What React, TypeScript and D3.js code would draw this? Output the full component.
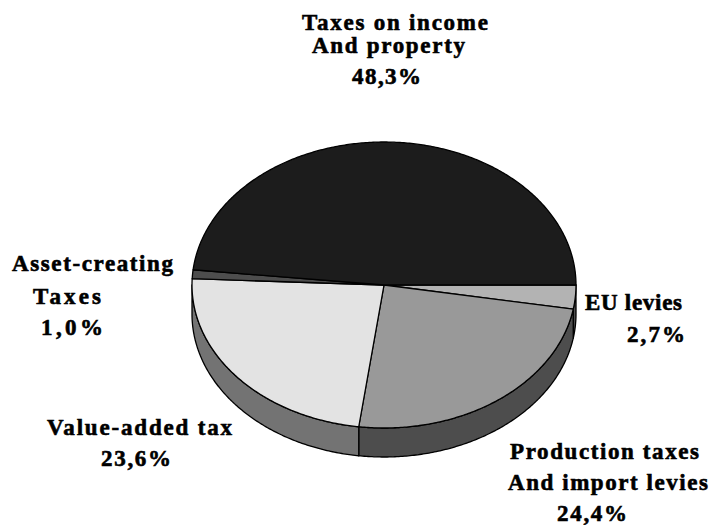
import React from "react";
import * as d3 from "d3";

// Shares of tax revenue, listed clockwise from the east point of the pie.
const categories = ["EU levies", "Production taxes and import levies", "Value-added tax", "Asset-creating taxes", "Taxes on income and property"];
const shares = [2.7, 24.4, 23.6, 1.0, 48.3];
const topColors = ["#b3b3b3", "#999999", "#e3e3e3", "#4d4d4d", "#1c1c1c"];
const wallColors = ["#4d4d4d", "#4d4d4d", "#737373", "#333333", "#141414"];

const labelLines = [
  { text: "Taxes on income", x: 302, y: 30, w: 186 },
  { text: "And property", x: 312, y: 53, w: 153 },
  { text: "48,3%", x: 352, y: 84, w: 69 },
  { text: "Asset-creating", x: 12, y: 271, w: 161 },
  { text: "Taxes", x: 33, y: 304, w: 68 },
  { text: "1,0%", x: 41, y: 335, w: 62 },
  { text: "EU levies", x: 585, y: 310, w: 97 },
  { text: "2,7%", x: 627, y: 342, w: 58 },
  { text: "Value-added tax", x: 47, y: 435, w: 185 },
  { text: "23,6%", x: 101, y: 466, w: 70 },
  { text: "Production taxes", x: 510, y: 459, w: 189 },
  { text: "And import levies", x: 508, y: 490, w: 200 },
  { text: "24,4%", x: 557, y: 521, w: 70 },
];

const W = 710;
const H = 525;
const cx = 384;
const cy = 285;
const rx = 192;
const ry = 143;
const depth = 29;

// Angles run clockwise from 12 o'clock, as d3.pie produces them.
const pieLayout = d3
  .pie<number>()
  .sort(null)
  .startAngle(Math.PI / 2)
  .endAngle(Math.PI / 2 + 2 * Math.PI);

const px = (a: number) => cx + rx * Math.sin(a);
const py = (a: number) => cy - ry * Math.cos(a);
const lineGen = d3.line<[number, number]>();

function rimPoints(a0: number, a1: number): [number, number][] {
  const n = Math.max(2, Math.ceil((a1 - a0) / 0.01));
  return d3.range(n + 1).map((i) => {
    const a = a0 + ((a1 - a0) * i) / n;
    return [px(a), py(a)] as [number, number];
  });
}

export default function App() {
  const arcs = pieLayout(shares);
  // Only the front half of the rim (east to west, via south) has a visible wall.
  const front0 = Math.PI / 2;
  const front1 = (3 * Math.PI) / 2;
  return (
    <svg
      width={W}
      height={H}
      viewBox={`0 0 ${W} ${H}`}
      style={{ position: "absolute", left: 0, top: 0, background: "#fff" }}
    >
      {arcs.map((d, i) => {
        const a0 = Math.max(d.startAngle, front0);
        const a1 = Math.min(d.endAngle, front1);
        if (a1 <= a0) return null;
        const rim = rimPoints(a0, a1);
        const lower = rim.map(([x, y]) => [x, y + depth] as [number, number]).reverse();
        return (
          <path
            key={`wall-${categories[i]}`}
            d={lineGen([...rim, ...lower]) + "Z"}
            fill={wallColors[i]}
            stroke="#000"
            strokeWidth={1.3}
            strokeLinejoin="round"
          />
        );
      })}
      {arcs.map((d, i) => (
        <path
          key={`top-${categories[i]}`}
          d={lineGen([[cx, cy], ...rimPoints(d.startAngle, d.endAngle)]) + "Z"}
          fill={topColors[i]}
          stroke="#000"
          strokeWidth={1.3}
          strokeLinejoin="round"
        />
      ))}
      {labelLines.map((l) => (
        <text
          key={l.text}
          x={l.x}
          y={l.y}
          textLength={l.w}
          lengthAdjust="spacing"
          fontFamily="'Liberation Serif', serif"
          fontWeight={700}
          fontSize={23}
          stroke="#000"
          strokeWidth={0.6}
          fill="#000"
        >
          {l.text}
        </text>
      ))}
    </svg>
  );
}
